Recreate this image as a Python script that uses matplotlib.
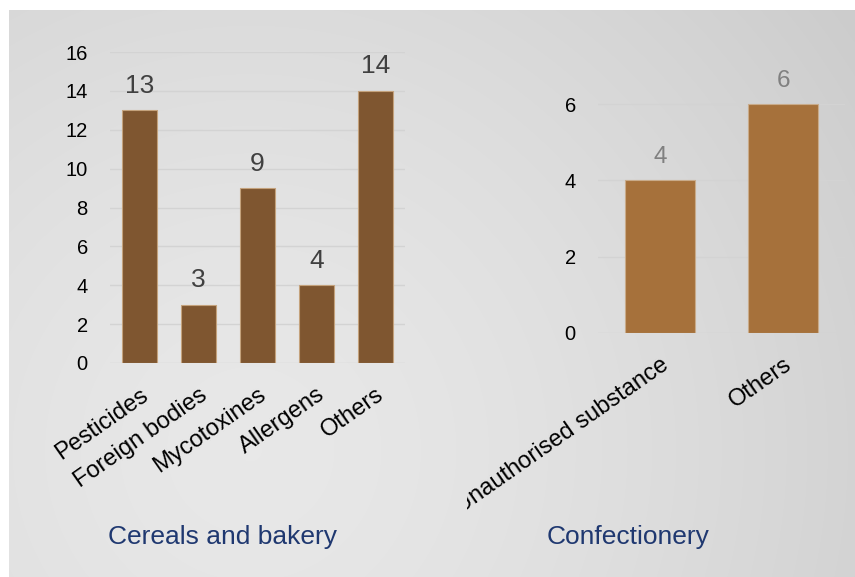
import numpy as np
import matplotlib
matplotlib.use("Agg")
import matplotlib.pyplot as plt
from matplotlib.transforms import Bbox, TransformedBbox

plt.rcParams['font.family'] = ['Liberation Sans', 'DejaVu Sans']

# data
cereal_cats = ["Pesticides", "Foreign bodies", "Mycotoxines", "Allergens", "Others"]
cereal_vals = [13, 3, 9, 4, 14]
cereal_ticks = [0, 2, 4, 6, 8, 10, 12, 14, 16]

confect_cats = ["Unauthorised substance", "Others"]
confect_vals = [4, 6]
confect_ticks = [0, 2, 4, 6]

W, H = 855, 577
fig = plt.figure(figsize=(W / 100, H / 100), dpi=100)
fig.patch.set_facecolor("white")

# gray panel with soft radial gradient
bg = fig.add_axes([0, 0, 1, 1], zorder=-5)
bg.set_xlim(0, W)
bg.set_ylim(H, 0)
bg.axis("off")
xx, yy = np.meshgrid(np.arange(9, 854), np.arange(10, H))
d = np.hypot(xx - 250, yy - 450) / 700.0
v = 0.91 - 0.1 * d ** 1.5
bg.imshow(np.dstack([v, v, v]), extent=(9, 854, H, 10), aspect="auto",
          interpolation="bilinear")


def px_axes(x0, x1, ytop, ybot):
    return fig.add_axes([x0 / W, (H - ybot) / H, (x1 - x0) / W, (ybot - ytop) / H])


def style(ax, ticks, top):
    ax.set_facecolor("none")
    for s in ax.spines.values():
        s.set_visible(False)
    ax.set_ylim(0, top)
    ax.set_yticks(ticks)
    ax.tick_params(axis="y", length=0, pad=16, labelsize=14.5, labelcolor="black")
    ax.tick_params(axis="x", length=0, pad=15, labelsize=17)
    ax.grid(axis="y", color="#d3d3d3", lw=1)
    ax.set_axisbelow(True)


# left chart
ax1 = px_axes(110, 405, 52, 363)
style(ax1, cereal_ticks, 16)
x1 = np.arange(len(cereal_cats))
bars1 = ax1.bar(x1, cereal_vals, width=0.58, color="#7f5630", edgecolor="#c4a27c", lw=0.8)
ax1.set_xlim(-0.5, len(cereal_cats) - 0.5)
ax1.set_xticks(x1)
ax1.set_xticklabels(cereal_cats, rotation=35, ha="right", va="top", rotation_mode="anchor")
for b, val in zip(bars1, cereal_vals):
    ax1.annotate(str(val), (b.get_x() + b.get_width() / 2, val), xytext=(0, 9),
                 textcoords="offset points", ha="center", va="bottom",
                 fontsize=19, color="#404040")

# right chart
ax2 = px_axes(598, 845, 66, 333)
style(ax2, confect_ticks, 7)
x2 = np.arange(len(confect_cats))
bars2 = ax2.bar(x2, confect_vals, width=0.57, color="#a6713b", edgecolor="#c9ab8a", lw=0.8)
ax2.set_xlim(-0.5, len(confect_cats) - 0.5)
ax2.set_xticks(x2)
ax2.set_xticklabels(confect_cats, rotation=35, ha="right", va="top", rotation_mode="anchor")
for b, val in zip(bars2, confect_vals):
    ax2.annotate(str(val), (b.get_x() + b.get_width() / 2, val), xytext=(0, 9),
                 textcoords="offset points", ha="center", va="bottom",
                 fontsize=17.5, color="#808080")

# the long label is cut off at the left in the original
clip = TransformedBbox(Bbox([[467 / W, 0], [1, 1]]), fig.transFigure)
for lbl in ax2.get_xticklabels():
    lbl.set_clip_box(clip)
    lbl.set_clip_on(True)

fig.text(222 / W, 1 - 537 / H, "Cereals and bakery", ha="center", va="center",
         fontsize=19, color="#1f3870")
fig.text(628 / W, 1 - 537 / H, "Confectionery", ha="center", va="center",
         fontsize=19, color="#1f3870")

fig.savefig("out.png", dpi=100)
